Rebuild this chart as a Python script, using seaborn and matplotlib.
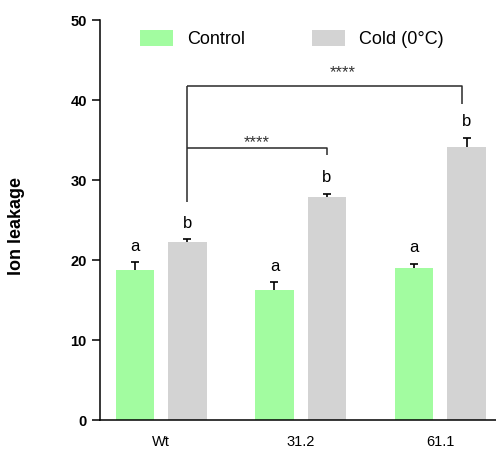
import matplotlib
matplotlib.use("Agg")
import matplotlib.pyplot as plt
import numpy as np
import pandas as pd
import seaborn as sns

# Ion leakage per genotype, control vs. cold treatment (mean and SEM)
genotypes = ["Wt", "31.2", "61.1"]
treatments = ["Control", "Cold (0\u00b0C)"]
control_mean = [18.7, 16.3, 19.0]
control_sem = [1.0, 0.95, 0.55]
cold_mean = [22.2, 27.85, 34.1]
cold_sem = [0.45, 0.45, 1.2]
control_letters = ["a", "a", "a"]
cold_letters = ["b", "b", "b"]
significance = ["****", "****"]

colors = ["#a2fca0", "#d3d3d3"]

df = pd.DataFrame({
    "Genotype": genotypes * 2,
    "Treatment": [treatments[0]] * 3 + [treatments[1]] * 3,
    "Leakage": control_mean + cold_mean,
    "SEM": control_sem + cold_sem,
    "Letter": control_letters + cold_letters,
})

sns.set_style("ticks")
plt.rcParams["font.family"] = ["Liberation Sans", "DejaVu Sans"]
plt.rcParams["text.color"] = "black"
plt.rcParams["axes.labelcolor"] = "black"
plt.rcParams["xtick.color"] = "black"
plt.rcParams["ytick.color"] = "black"

fig = plt.figure(figsize=(4.96, 4.5), dpi=100)
ax = fig.add_axes([100 / 496, 30 / 450, 396 / 496, 400 / 450])

sns.barplot(data=df, x="Genotype", y="Leakage", hue="Treatment",
            palette=colors, width=0.752, gap=0.267, errorbar=None,
            saturation=1, linewidth=0, ax=ax)

# upper-only error bars and group letters on each bar
bars = [p for p in ax.patches if p.get_height() > 0]
bars = sorted(bars, key=lambda p: p.get_x())
order = []
for g in genotypes:
    for t in treatments:
        order.append(df[(df.Genotype == g) & (df.Treatment == t)].iloc[0])
centers = {}
for p, row in zip(bars, order):
    xc = p.get_x() + p.get_width() / 2
    centers[(row.Genotype, row.Treatment)] = xc
    eb = ax.errorbar(xc, row.Leakage, yerr=[[0], [row.SEM]], fmt="none",
                     ecolor="black", elinewidth=1.2, capsize=3, capthick=1.2)
    eb[1][0].set_visible(False)  # hide the lower cap
    ax.annotate(row.Letter, (xc, row.Leakage + row.SEM), xytext=(0, 8),
                textcoords="offset points", ha="center", va="baseline",
                fontsize=12, color="black")

# significance brackets from Wt cold to the transgenic lines
wt_x = centers[("Wt", treatments[1])]
x31 = centers[("31.2", treatments[1])]
x61 = centers[("61.1", treatments[1])] - 0.035
line_kw = dict(color="#2a2a2a", lw=1.1, solid_capstyle="butt")
ax.plot([wt_x, wt_x], [27.2, 41.8], **line_kw)
ax.plot([wt_x, x31, x31], [34.0, 34.0, 33.1], **line_kw)
ax.plot([wt_x, x61, x61], [41.8, 41.8, 39.5], **line_kw)
ax.text((wt_x + x31) / 2, 34.7, significance[0], ha="center", va="center",
        fontsize=12, color="#333333")
ax.text((wt_x + x61) / 2 + 0.13, 43.4, significance[1], ha="center",
        va="center", fontsize=12, color="#333333")

ax.set_ylim(0, 50)
ax.set_xlim(-0.437, 2.398)
ax.set_yticks([0, 10, 20, 30, 40, 50])
ax.set_xlabel("")
ax.set_ylabel("Ion leakage", fontsize=13, fontweight="bold")
ax.yaxis.set_label_coords(-75 / 396, 0.485)

for lab in ax.get_yticklabels():
    lab.set_fontweight("bold")
ax.tick_params(axis="y", length=6, width=1.1, pad=3.5, labelsize=10.5)
ax.tick_params(axis="x", length=0, pad=11, labelsize=10.5)

sns.despine(ax=ax)
for s in ("left", "bottom"):
    ax.spines[s].set_linewidth(1.1)
    ax.spines[s].set_color("black")

h, l = ax.get_legend_handles_labels()
ax.legend(h, l, ncol=2, frameon=False, loc="upper left",
          bbox_to_anchor=(40 / 396, 0.975), borderaxespad=0, borderpad=0,
          fontsize=13, handlelength=1.83, handleheight=1.0,
          handletextpad=0.78, columnspacing=3.7)

fig.savefig("out.png", dpi=100)
